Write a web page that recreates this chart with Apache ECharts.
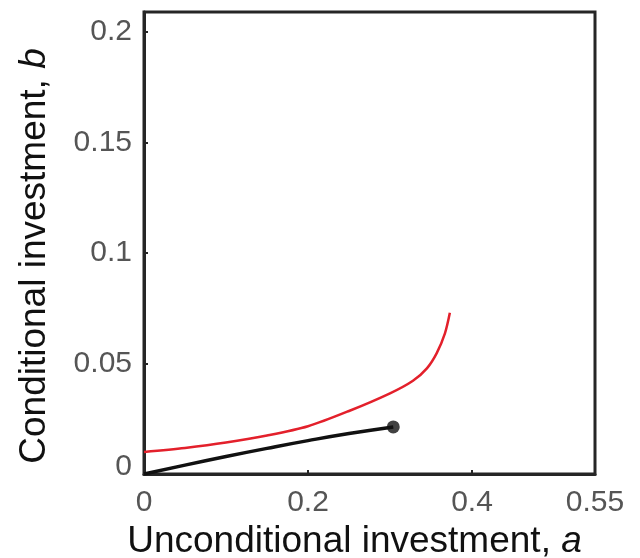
<!DOCTYPE html>
<html>
<head>
<meta charset="utf-8">
<script src="https://cdn.jsdelivr.net/npm/echarts@6/dist/echarts.min.js"></script>
<style>
  html, body { margin: 0; padding: 0; background: #fff; }
  #chart { width: 640px; height: 558px; }
</style>
</head>
<body>
<div id="chart"></div>
<script>
// values
const redA = [0, 0.05, 0.1, 0.15, 0.2, 0.25, 0.3, 0.328, 0.345, 0.357, 0.367, 0.373];
const redB = [0.0100, 0.0118, 0.0142, 0.0174, 0.0216, 0.0285, 0.0365, 0.0422, 0.0478, 0.0547, 0.0636, 0.0729];
const blackA = [0, 0.05, 0.1, 0.15, 0.2, 0.25, 0.304];
const blackB = [0, 0.0040, 0.0079, 0.0116, 0.0151, 0.0183, 0.0213];
const endPoint = [0.304, 0.0213];
const xTicks = [0, 0.2, 0.4, 0.55];
const yTicks = [0, 0.05, 0.1, 0.15, 0.2];

const chart = echarts.init(document.getElementById('chart'));
const font = 'Liberation Sans, Arial, sans-serif';

const option = {
  animation: false,
  grid: {
    left: 144,
    right: 45,
    top: 12,
    bottom: 84,
    outerBoundsMode: 'none',
    containLabel: false,
    show: true,
    borderColor: '#262626',
    borderWidth: 3,
  },
  xAxis: {
    type: 'value',
    min: 0,
    max: 0.55,
    name: 'Unconditional investment, {i|a}',
    nameLocation: 'middle',
    nameGap: 48,
    nameTextStyle: {
      fontFamily: font,
      fontSize: 37,
      color: '#111',
      padding: [0, 30, 0, 0],
      rich: { i: { fontStyle: 'italic', fontFamily: font, fontSize: 37, color: '#111' } },
    },
    axisLine: { show: true, lineStyle: { color: '#262626', width: 3 } },
    axisTick: { show: true, inside: true, length: 4, customValues: xTicks, lineStyle: { color: '#262626', width: 2 } },
    axisLabel: {
      customValues: xTicks,
      fontFamily: font,
      fontSize: 30,
      color: '#555',
      margin: 14,
    },
    splitLine: { show: false },
  },
  yAxis: {
    type: 'value',
    min: 0,
    max: 0.209,
    name: 'Conditional investment, {i|b}',
    nameLocation: 'middle',
    nameGap: 91,
    nameRotate: 90,
    nameTextStyle: {
      fontFamily: font,
      fontSize: 37,
      color: '#111',
      padding: [0, 26, 0, 0],
      rich: { i: { fontStyle: 'italic', fontFamily: font, fontSize: 37, color: '#111' } },
    },
    axisLine: { show: true, lineStyle: { color: '#262626', width: 3 } },
    axisTick: { show: true, inside: true, length: 4, customValues: yTicks, lineStyle: { color: '#262626', width: 2 } },
    axisLabel: {
      customValues: yTicks,
      fontFamily: font,
      fontSize: 30,
      color: '#555',
      margin: 12,
      formatter: (v) => (v === 0 ? '{z|0}' : String(v)),
      rich: { z: { fontFamily: font, fontSize: 30, color: '#555', padding: [0, 0, 14, 0] } },
    },
    splitLine: { show: false },
  },
  series: [
    {
      type: 'line',
      data: redA.map((a, i) => [a, redB[i]]),
      smooth: 0.3,
      showSymbol: false,
      lineStyle: { color: '#e3202b', width: 2.5 },
    },
    {
      type: 'line',
      data: blackA.map((a, i) => [a, blackB[i]]),
      smooth: true,
      showSymbol: false,
      lineStyle: { color: '#111', width: 3.5 },
    },
    {
      type: 'scatter',
      data: [endPoint],
      symbolSize: 13,
      itemStyle: { color: '#111' },
    },
  ],
};

chart.setOption(option);
</script>
</body>
</html>
